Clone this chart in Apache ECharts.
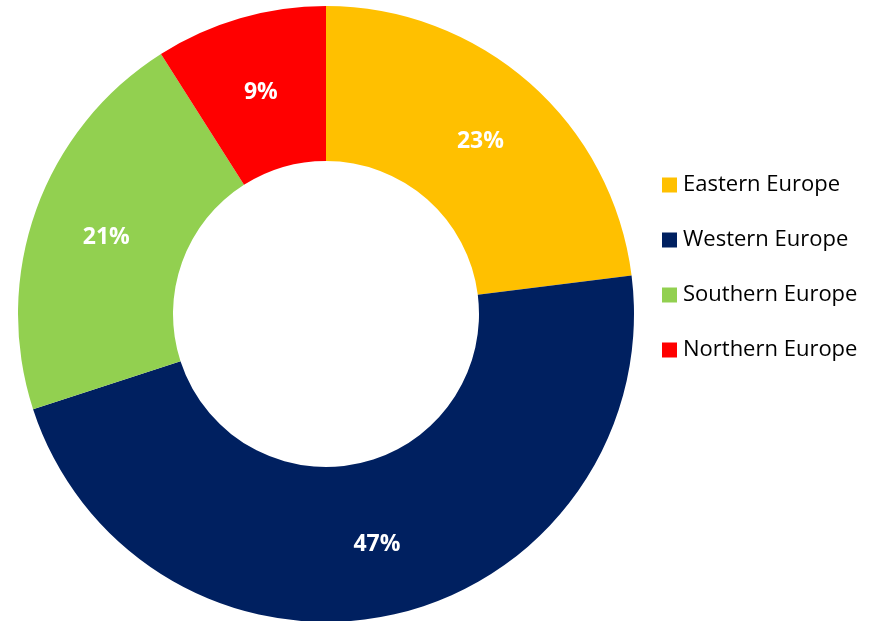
<!DOCTYPE html>
<html>
<head>
<meta charset="utf-8">
<script src="https://cdn.jsdelivr.net/npm/echarts@6/dist/echarts.min.js"></script>
<style>html,body{margin:0;padding:0;background:#fff;}#c{width:882px;height:621px;}</style>
</head>
<body>
<div id="c"></div>
<script>
const categories = ['Eastern Europe', 'Western Europe', 'Southern Europe', 'Northern Europe'];
const values = [23, 47, 21, 9];
const colors = ['#FFC000', '#002060', '#92D050', '#FF0000'];

const chart = echarts.init(document.getElementById('c'), null, {renderer: 'canvas'});
chart.setOption({
  animation: false,
  color: colors,
  legend: {
    orient: 'vertical',
    left: 662,
    top: 174,
    padding: 0,
    itemWidth: 15,
    itemHeight: 15,
    itemGap: 33,
    icon: 'rect',
    textStyle: {fontFamily: 'Open Sans', fontSize: 22, color: '#000', lineHeight: 22, padding: [0, 0, 0, 1]},
    data: categories
  },
  series: [{
    type: 'pie',
    center: [326, 314],
    radius: [153, 308],
    startAngle: 90,
    clockwise: true,
    avoidLabelOverlap: false,
    label: {
      show: true,
      position: 'inside',
      formatter: '{c}%',
      color: '#fff',
      fontFamily: 'Open Sans',
      fontWeight: 'bold',
      fontSize: 23,
      offset: [0, 3]
    },
    labelLine: {show: false},
    itemStyle: {borderWidth: 0},
    emphasis: {disabled: true},
    data: categories.map((n, i) => ({name: n, value: values[i]}))
  }]
});
</script>
</body>
</html>
